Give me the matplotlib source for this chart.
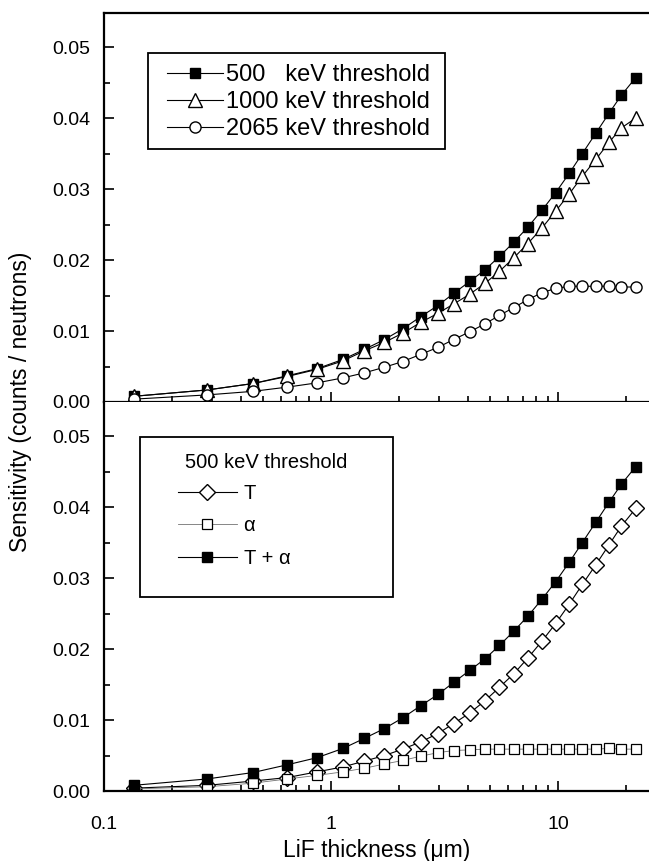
import matplotlib
matplotlib.use("Agg")
import matplotlib.pyplot as plt
from matplotlib.patches import Rectangle
from matplotlib.ticker import FixedLocator, FuncFormatter, MultipleLocator

# LiF thickness in micrometres (same sampling for every curve)
thickness = [0.135, 0.285, 0.453, 0.643, 0.869, 1.13, 1.40, 1.72, 2.07, 2.48,
             2.96, 3.47, 4.09, 4.76, 5.52, 6.38, 7.35, 8.49, 9.77, 11.2,
             12.8, 14.7, 16.8, 19.0, 22.0]

# top panel: sensitivity for three thresholds
thr_500 = [0.0008, 0.0017, 0.0026, 0.0037, 0.0047, 0.0060, 0.0074, 0.0088, 0.0103, 0.0120,
           0.0136, 0.0153, 0.0170, 0.0186, 0.0205, 0.0225, 0.0246, 0.0270, 0.0295, 0.0322,
           0.0350, 0.0379, 0.0407, 0.0432, 0.0457]
thr_1000 = [0.0008, 0.0017, 0.0026, 0.0036, 0.0046, 0.0058, 0.0072, 0.0084, 0.0097, 0.0112,
            0.0125, 0.0138, 0.0152, 0.0167, 0.0184, 0.0203, 0.0223, 0.0245, 0.0269, 0.0293,
            0.0318, 0.0342, 0.0366, 0.0386, 0.0400]
thr_2065 = [0.0004, 0.0010, 0.0015, 0.0021, 0.0027, 0.0034, 0.0041, 0.0049, 0.0057, 0.0067,
            0.0077, 0.0088, 0.0099, 0.0110, 0.0122, 0.0133, 0.0144, 0.0154, 0.0160, 0.0163,
            0.0163, 0.0163, 0.0163, 0.0162, 0.0162]

# bottom panel: 500 keV threshold split into triton / alpha contributions
triton = [0.0004, 0.0008, 0.0014, 0.0019, 0.0027, 0.0034, 0.0042, 0.0050, 0.0059, 0.0069,
          0.0081, 0.0095, 0.0110, 0.0127, 0.0146, 0.0165, 0.0187, 0.0211, 0.0236, 0.0263,
          0.0291, 0.0319, 0.0347, 0.0373, 0.0398]
alpha = [0.0003, 0.0006, 0.0011, 0.0017, 0.0022, 0.0027, 0.0032, 0.0038, 0.0043, 0.0049,
         0.0054, 0.0057, 0.0058, 0.0059, 0.0059, 0.0059, 0.0059, 0.0059, 0.0059, 0.0059,
         0.0059, 0.0059, 0.0060, 0.0059, 0.0059]
total = thr_500

x_major = [0.1, 1, 10]
x_labels = {0.1: "0.1", 1: "1", 10: "10"}

plt.rcParams['font.family'] = ['Liberation Sans', 'DejaVu Sans']
plt.rcParams['font.size'] = 14

W, H = 649, 861
fig = plt.figure(figsize=(W / 100, H / 100), dpi=100)

left_px, right_px = 104, 649
top_px, mid_px, bot_px = 13, 402, 791
ax_w = (right_px - left_px) / W
ax_h = (mid_px - top_px) / H
ax_top = fig.add_axes([left_px / W, 1 - mid_px / H, ax_w, ax_h])
ax_bot = fig.add_axes([left_px / W, 1 - bot_px / H, ax_w, ax_h])

line_kw = dict(color='black', lw=0.8, mew=1.0, mec='black')

# top panel
ax_top.plot(thickness, thr_500, marker='s', ms=7.5, mfc='black',
            label='500   keV threshold', **line_kw)
ax_top.plot(thickness, thr_1000, marker='^', ms=10, mfc='white',
            label='1000 keV threshold', **line_kw)
ax_top.plot(thickness, thr_2065, marker='o', ms=8, mfc='white',
            label='2065 keV threshold', **line_kw)

# bottom panel
ax_bot.plot(thickness, triton, marker='D', ms=8.5, mfc='white', color='black',
            lw=0.8, mew=1.0, mec='black', label='T')
ax_bot.plot(thickness, alpha, marker='s', ms=7.5, mfc='white', color='0.45',
            lw=0.6, mew=0.9, mec='black', label='\u03b1')
ax_bot.plot(thickness, total, marker='s', ms=7.5, mfc='black',
            label='T + \u03b1', **line_kw)

x_max = 10 ** (-1 + (right_px - left_px) / 227.0)
for ax in (ax_top, ax_bot):
    ax.set_xscale('log')
    ax.set_xlim(0.1, x_max)
    ax.set_ylim(0, 0.0548)
    ax.xaxis.set_major_locator(FixedLocator(x_major))
    ax.xaxis.set_major_formatter(FuncFormatter(lambda v, p: x_labels.get(round(v, 3), '')))
    ax.yaxis.set_major_locator(MultipleLocator(0.01))
    ax.yaxis.set_minor_locator(MultipleLocator(0.005))
    ax.yaxis.set_major_formatter(FuncFormatter(lambda v, p: '%.2f' % v))
    ax.tick_params(which='both', direction='in', top=False, right=False, width=1.2)
    ax.tick_params(which='major', length=7, labelsize=14)
    ax.tick_params(which='minor', length=4)
    ax.tick_params(axis='x', pad=18)
    ax.tick_params(axis='y', pad=10)
    ax.spines['right'].set_visible(False)
    for s in ('left', 'bottom', 'top'):
        ax.spines[s].set_linewidth(1.6)

ax_top.tick_params(axis='x', labelbottom=False)
ax_bot.spines['top'].set_visible(False)

# legend frames drawn as plain rectangles, legends themselves frameless
ax_top.add_patch(Rectangle((0.081, 0.650), 0.545, 0.247, transform=ax_top.transAxes,
                           fill=False, lw=1.3, ec='black', zorder=5))
ax_top.legend(loc='upper left', bbox_to_anchor=(0.115, 0.868), frameon=False,
              borderpad=0, borderaxespad=0, handlelength=2.4, handletextpad=0.12,
              labelspacing=0.2, fontsize=17)

ax_bot.add_patch(Rectangle((0.066, 0.499), 0.464, 0.411, transform=ax_bot.transAxes,
                           fill=False, lw=1.3, ec='black', zorder=5))
ax_bot.text(0.149, 0.845, '500 keV threshold', transform=ax_bot.transAxes,
            fontsize=14.5, va='center', ha='left')
ax_bot.legend(loc='upper left', bbox_to_anchor=(0.136, 0.79), frameon=False,
              borderpad=0, borderaxespad=0, handlelength=2.9, handletextpad=0.35,
              labelspacing=0.68, fontsize=14.5)

ax_bot.set_xlabel('LiF thickness (\u03bcm)', fontsize=16.5, labelpad=4)
fig.text(0.032, 1 - mid_px / H, 'Sensitivity (counts / neutrons)', rotation=90,
         va='center', ha='center', fontsize=16.5)

fig.savefig('out.png', dpi=100)
